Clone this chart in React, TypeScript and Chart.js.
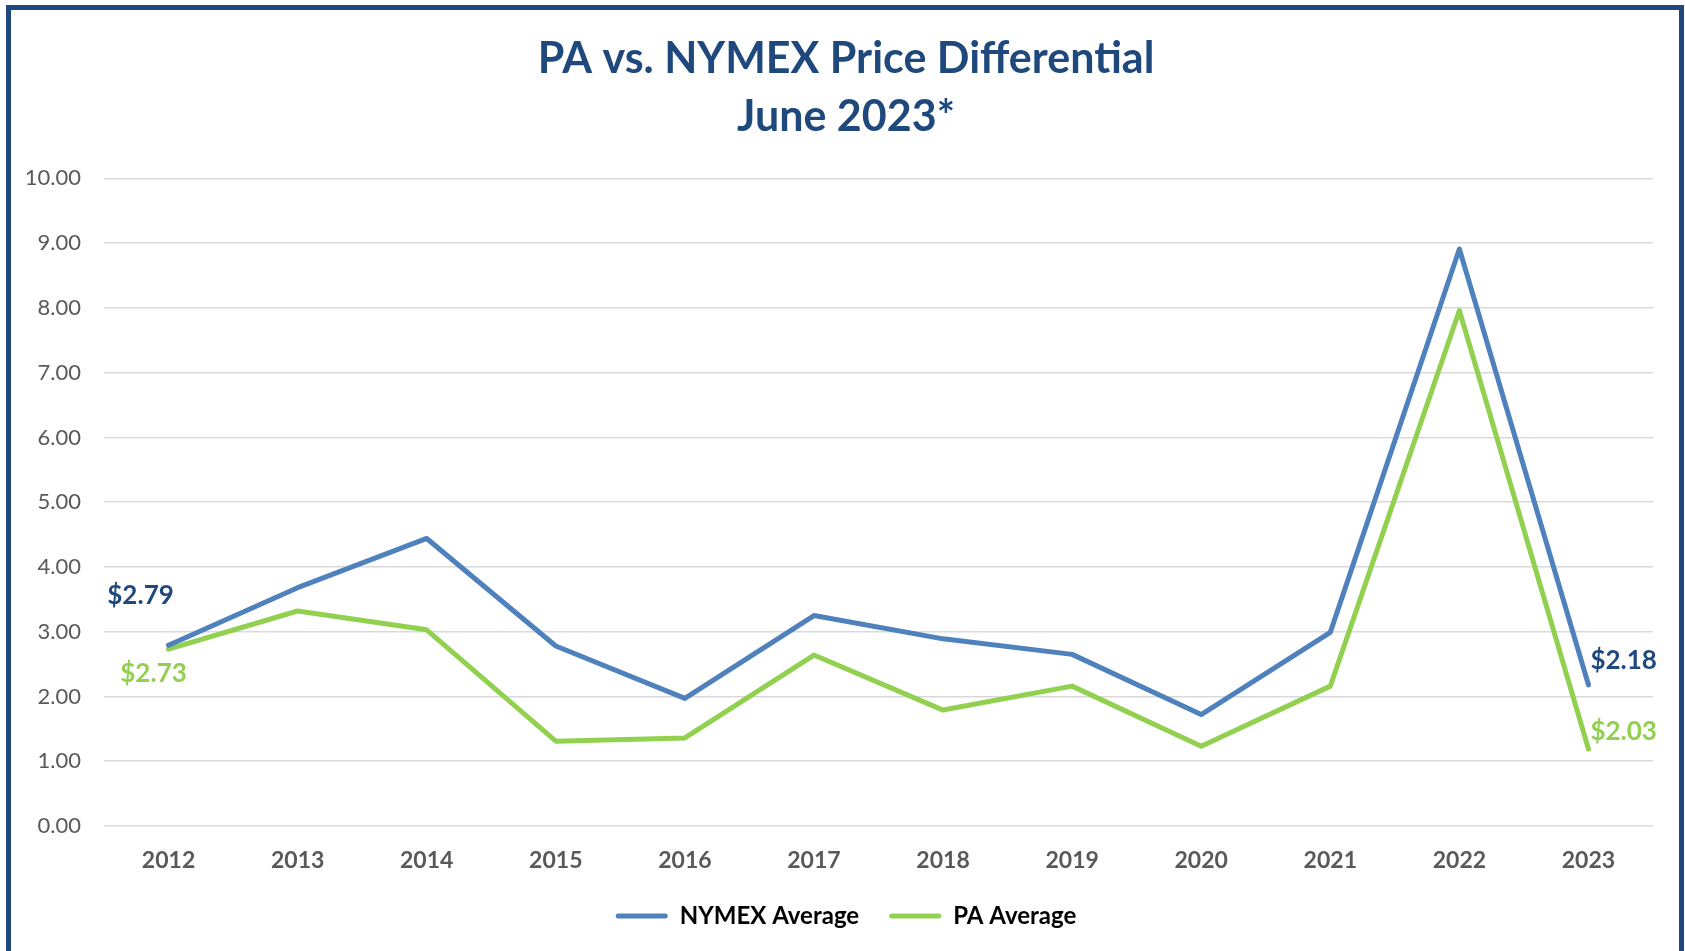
import React, { useEffect, useRef } from "react";
import { Chart, registerables } from "chart.js";

Chart.register(...registerables);

const years = ["2012", "2013", "2014", "2015", "2016", "2017", "2018", "2019", "2020", "2021", "2022", "2023"];
const nymexAverage = [2.79, 3.68, 4.44, 2.78, 1.97, 3.25, 2.89, 2.65, 1.72, 2.99, 8.91, 2.18];
const paAverage = [2.73, 3.32, 3.03, 1.31, 1.36, 2.64, 1.79, 2.16, 1.23, 2.16, 7.96, 1.19];
const nymexLabels = ["$2.79", "", "", "", "", "", "", "", "", "", "", "$2.18"];
const paLabels = ["$2.73", "", "", "", "", "", "", "", "", "", "", "$2.03"];
const titleLines = ["PA vs. NYMEX Price Differential", "June 2023*"];

const FONT = "Lato, 'Open Sans', sans-serif";

const labelPlugin = {
  id: "endLabels",
  afterDatasetsDraw(chart: any) {
    const ctx = chart.ctx;
    const styles = [
      { labels: nymexLabels, color: "#1F497D", first: [-28, -50], last: [2, -24] },
      { labels: paLabels, color: "#92D050", first: [-15, 24], last: [2, -17] },
    ];
    styles.forEach((s, di) => {
      const meta = chart.getDatasetMeta(di);
      ctx.save();
      ctx.font = `bold 26px ${FONT}`;
      ctx.fillStyle = s.color;
      ctx.textBaseline = "middle";
      s.labels.forEach((txt, i) => {
        if (!txt) return;
        const p = meta.data[i];
        if (i === 0) {
          ctx.textAlign = "center";
          ctx.fillText(txt, p.x + s.first[0], p.y + s.first[1]);
        } else {
          ctx.textAlign = "left";
          ctx.fillText(txt, p.x + s.last[0], p.y + s.last[1]);
        }
      });
      ctx.restore();
    });
  },
};

export default function App() {
  const ref = useRef<HTMLCanvasElement>(null);
  useEffect(() => {
    document.body.style.margin = "0";
    const chart = new Chart(ref.current!, {
      type: "line",
      data: {
        labels: years,
        datasets: [
          {
            label: "NYMEX Average",
            data: nymexAverage,
            borderColor: "#4F81BD",
            backgroundColor: "#4F81BD",
            borderWidth: 5,
            pointRadius: 0,
            borderCapStyle: "round",
            borderJoinStyle: "round",
            tension: 0,
          },
          {
            label: "PA Average",
            data: paAverage,
            borderColor: "#92D050",
            backgroundColor: "#92D050",
            borderWidth: 5,
            pointRadius: 0,
            borderCapStyle: "round",
            borderJoinStyle: "round",
            tension: 0,
          },
        ],
      },
      options: {
        responsive: false,
        animation: false,
        devicePixelRatio: 1,
        layout: { padding: { left: 22, right: 15, top: 0, bottom: 13 } },
        plugins: {
          tooltip: { enabled: false },
          title: {
            display: true,
            text: titleLines,
            color: "#1F497D",
            font: { family: FONT, size: 43, weight: "bold", lineHeight: 1.33 },
            padding: { top: 31, bottom: 33 },
          },
          legend: {
            position: "bottom",
            labels: {
              color: "#595959",
              font: { family: FONT, size: 24, weight: "bold" },
              boxWidth: 52,
              boxHeight: 5,
              padding: 30,
              generateLabels: (c: any) =>
                c.data.datasets.map((d: any, i: number) => ({
                  text: d.label,
                  fillStyle: d.borderColor,
                  strokeStyle: d.borderColor,
                  lineWidth: 0,
                  borderRadius: 2.5,
                  datasetIndex: i,
                  hidden: false,
                })),
            },
          },
        },
        scales: {
          x: {
            offset: true,
            grid: { display: false, drawTicks: false, offset: true },
            border: { display: false },
            ticks: {
              color: "#595959",
              font: { family: FONT, size: 23, weight: "bold" },
              padding: 21,
              maxRotation: 0,
            },
            afterFit: (s: any) => {
              s.height = 48;
            },
          },
          y: {
            min: 0,
            max: 10,
            grid: { color: "#D9D9D9", lineWidth: 1.5, drawTicks: false },
            border: { display: false },
            ticks: {
              stepSize: 1,
              color: "#595959",
              font: { family: FONT, size: 22 },
              padding: 23,
              callback: (v: any) => Number(v).toFixed(2),
            },
            afterFit: (s: any) => {
              s.width = 82;
            },
          },
          yRight: {
            type: "linear",
            position: "right",
            min: 0,
            max: 10,
            grid: { display: false, drawTicks: false },
            border: { display: false },
            ticks: { display: false },
            afterFit: (s: any) => {
              s.width = 17;
            },
          },
        },
      },
      plugins: [labelPlugin],
    });
    return () => chart.destroy();
  }, []);

  return (
    <div style={{ position: "fixed", left: 0, top: 0, width: 1685, height: 951, background: "#fff", overflow: "hidden" }}>
      <canvas ref={ref} width={1685} height={951} style={{ width: 1685, height: 951, display: "block" }} />
      <div
        style={{
          position: "absolute",
          left: 6,
          top: 5,
          width: 1678,
          height: 980,
          boxSizing: "border-box",
          border: "5px solid #1F497D",
          pointerEvents: "none",
        }}
      />
    </div>
  );
}
